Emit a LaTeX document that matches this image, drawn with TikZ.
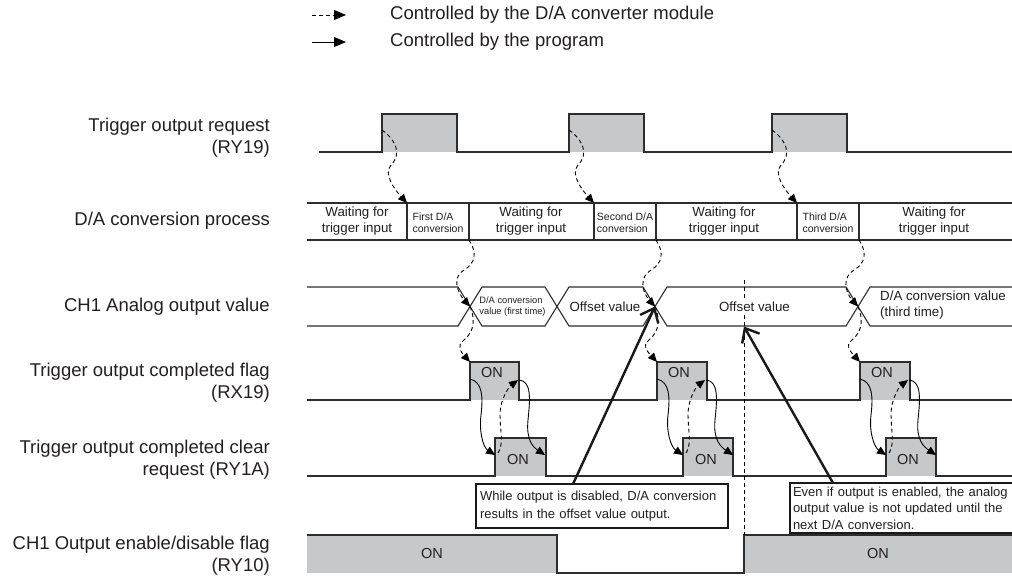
\documentclass[tikz,border=0pt]{standalone}
\usepackage{fontspec}
\setmainfont{Liberation Sans}
\usetikzlibrary{arrows.meta}
\definecolor{linec}{RGB}{45,45,45}
\definecolor{pgray}{RGB}{199,200,202}
\definecolor{txtc}{RGB}{35,31,32}
\begin{document}
\begin{tikzpicture}[x=1pt,y=-1pt,
  sig/.style={draw=linec,line width=1.1pt,line join=miter},
  dsh/.style={draw=black,line width=0.9pt,dash pattern=on 4pt off 3pt,-{Triangle[length=9pt,width=8pt]}},
  sol/.style={draw=black,line width=0.9pt,-{Triangle[length=9pt,width=8pt]}},
  big/.style={draw=black!90,line width=2.4pt,-{Straight Barb[length=12pt,width=20pt]}},
  vdash/.style={draw=black,line width=0.9pt,dash pattern=on 4pt off 3pt},
  lbl/.style={font=\fontsize{18.5}{21.7}\selectfont,align=right,anchor=east,inner sep=0pt,text=txtc},
  lgd/.style={font=\fontsize{18.5}{21.7}\selectfont,anchor=west,inner sep=0pt,text=txtc},
  wt/.style={font=\fontsize{13.3}{16}\selectfont,align=center,inner sep=0pt,text=txtc},
  cv/.style={font=\fontsize{10.5}{11.6}\selectfont,align=left,inner sep=0pt,text=txtc},
  sm/.style={font=\fontsize{9.3}{10.7}\selectfont,align=left,inner sep=0pt,text=txtc},
  ontxt/.style={font=\fontsize{14.5}{16}\selectfont,inner sep=0pt,text=txtc},
  callout/.style={draw=black!90,line width=2pt,fill=white,align=left,anchor=north west,text=txtc,inner ysep=0pt},
]
\useasboundingbox (0,0) rectangle (1012,576);
\fill[white] (0,0) rectangle (1012,576);

% ---------- legend ----------
\coordinate (lg1a) at (312,15);
\coordinate (lg1b) at (346,15);
\coordinate (lg2a) at (312,42);
\coordinate (lg2b) at (346,42);
\draw[draw=black,line width=0.9pt,dash pattern=on 4pt off 3pt,-{Triangle[length=12pt,width=10pt]}] (lg1a) -- (lg1b);
\draw[draw=black,line width=0.9pt,-{Triangle[length=12pt,width=10pt]}] (lg2a) -- (lg2b);
\node[lgd] (lgt1) at (390,15) {Controlled by the D/A converter module};
\node[lgd] (lgt2) at (390,42) {Controlled by the program};

% ---------- left labels ----------
\node[lbl] (l1) at (270,137.5) {Trigger output request\\(RY19)};
\node[lbl] (l2) at (270,221) {D/A conversion process};
\node[lbl] (l3) at (270,306.5) {CH1 Analog output value};
\node[lbl] (l4) at (270,382.5) {Trigger output completed flag\\(RX19)};
\node[lbl] (l5) at (270,459.5) {Trigger output completed clear\\request (RY1A)};
\node[lbl] (l6) at (270,556) {CH1 Output enable/disable flag\\(RY10)};

% ---------- fills ----------
\fill[pgray] (382,114) rectangle (457,152);
\fill[pgray] (569,114) rectangle (644,152);
\fill[pgray] (772,114) rectangle (847,152);
\fill[pgray] (470,362) rectangle (519,400);
\fill[pgray] (657,362) rectangle (707,400);
\fill[pgray] (860,362) rectangle (910,400);
\fill[pgray] (495,438) rectangle (546,476);
\fill[pgray] (683,438) rectangle (733,476);
\fill[pgray] (886,438) rectangle (936,476);
\fill[pgray] (307,535) rectangle (557,573);
\fill[pgray] (744,535) rectangle (1012,573);

% ---------- row 1 ----------
\draw[sig] (319,152) -- (382,152) -- (382,114) -- (457,114) -- (457,152) -- (569,152) -- (569,114) -- (644,114) -- (644,152)
  -- (772,152) -- (772,114) -- (847,114) -- (847,152) -- (1012,152);

% ---------- row 2 ----------
\draw[sig] (307,203) -- (1012,203);
\draw[sig] (307,240) -- (1012,240);
\foreach \x in {407,469,594,656,797,859}{\draw[sig] (\x,203) -- (\x,240);}
\node[wt] (w1) at (357,221.5) {Waiting for\\trigger input};
\node[cv] (f1) at (438,222.5) {First D/A\\conversion};
\node[wt] (w2) at (531,221.5) {Waiting for\\trigger input};
\node[cv] (f2) at (625,222.5) {Second D/A\\conversion};
\node[wt] (w3) at (724,221.5) {Waiting for\\trigger input};
\node[cv] (f3) at (828,222.5) {Third D/A\\conversion};
\node[wt] (w4) at (934,221.5) {Waiting for\\trigger input};

% ---------- row 3 ----------
\draw[sig] (307,287) -- (458,287) -- (470,306.5) -- (482,326) -- (545,326) -- (557,306.5) -- (569,287) -- (643,287) -- (655,306.5)
  -- (667,326) -- (846,326) -- (858,306.5) -- (870,287) -- (1012,287);
\draw[sig] (307,326) -- (458,326) -- (470,306.5) -- (482,287) -- (545,287) -- (557,306.5) -- (569,326) -- (643,326) -- (655,306.5)
  -- (667,287) -- (846,287) -- (858,306.5) -- (870,326) -- (1012,326);

% ---------- rows 4, 5, 6 ----------
\draw[sig] (307,400) -- (470,400) -- (470,362) -- (519,362) -- (519,400) -- (657,400) -- (657,362) -- (707,362) -- (707,400)
  -- (860,400) -- (860,362) -- (910,362) -- (910,400) -- (1012,400);
\draw[sig] (307,476) -- (495,476) -- (495,438) -- (546,438) -- (546,476) -- (683,476) -- (683,438) -- (733,438) -- (733,476)
  -- (886,476) -- (886,438) -- (936,438) -- (936,476) -- (1012,476);
\draw[sig] (307,535) -- (557,535) -- (557,573) -- (744,573) -- (744,535) -- (1012,535);

% dashed vertical marker
\draw[vdash] (744,280) -- (744,535);

% row 3 texts
\node[sm] (dv1) at (512.5,306.5) {D/A conversion\\value (first time)};
\node[wt] (ov1) at (605,306.5) {Offset value};
\node[wt,fill=white,inner sep=1pt] (ov2) at (754.5,306.5) {Offset value};
\node[wt,align=left,anchor=west] (dv3) at (880,305) {D/A conversion value\\(third time)};

% ON texts
\node[ontxt] (on4a) at (492,373) {ON};
\node[ontxt] (on4b) at (679,373) {ON};
\node[ontxt] (on4c) at (882,373) {ON};
\node[ontxt] (on5a) at (518,460) {ON};
\node[ontxt] (on5b) at (706,460) {ON};
\node[ontxt] (on5c) at (908,460) {ON};
\node[ontxt] (on6a) at (432,554) {ON};
\node[ontxt] (on6b) at (878,554) {ON};

% ---------- dashed arrows row1 -> row2 ----------
\foreach \i/\s/\d in {1/382/407,2/569/594,3/772/797}{
  \coordinate (trig\i) at (\s,130);
  \coordinate (proc\i) at (\d,203);
  \draw[dsh] (trig\i) .. controls ({\s+14},140) and ({\s+20},154) .. ({\s+9},165)
     .. controls ({\s+1},174) and ({\d-12},190) .. (proc\i);
}
% ---------- dashed arrows row2 -> row3 ----------
\foreach \i/\d/\c in {1/469/470,2/656/655,3/859/858}{
  \coordinate (pend\i) at (\d,240);
  \coordinate (cx\i) at (\c,306.5);
  \draw[dsh] (pend\i) .. controls ({\d+8},252) and ({\d+7},263) .. ({\d-5},270)
     .. controls ({\d-17},277) and ({\c-13},292) .. (cx\i);
}
% ---------- dashed arrows row3 -> row4 ----------
\foreach \i/\c/\a in {1/470/470,2/655/657,3/858/860}{
  \coordinate (cy\i) at (\c,306.5);
  \coordinate (flag\i) at (\a,362);
  \draw[dsh] (cy\i) .. controls ({\c+5},318) and ({\c+5},331) .. ({\c-6},340)
     .. controls ({\c-14},346) and ({\a-9},352) .. (flag\i);
}
% ---------- arrows between row 4 and row 5 ----------
\foreach \i/\a/\b in {1/470/495,2/657/683,3/860/886}{
  \coordinate (fs\i) at (\a,379);
  \coordinate (cs\i) at (\b,455);
  \coordinate (cd\i) at ({\b+3},453);
  \coordinate (fe\i) at ({\a+48},380);
  \coordinate (fr\i) at ({\a+49},380);
  \coordinate (ce\i) at ({\b+50},455);
  \draw[sol] (fs\i) .. controls ({\a+13},382) and ({\a+13},398) .. ({\a+11},415)
     .. controls ({\a+9},432) and ({\b-12},447) .. (cs\i);
  \draw[dsh] (cd\i) .. controls ({\b+9},444) and ({\b+5},430) .. ({\b+5},415)
     .. controls ({\b+5},398) and ({\a+40},386) .. (fe\i);
  \draw[sol] (fr\i) .. controls ({\a+62},381) and ({\a+60},400) .. ({\a+58},420)
     .. controls ({\a+56},440) and ({\b+38},447) .. (ce\i);
}

% ---------- callouts ----------
\coordinate (p1) at (573,484);
\coordinate (p2) at (833,483);
\coordinate (tip2) at (744,326.5);
\draw[big] (p1) -- (cx2);
\draw[big] (p2) -- (tip2);
\node[callout,font=\fontsize{13}{18}\selectfont,text width=244pt,inner xsep=4pt,minimum height=44pt] (co1) at (475,483)
  {While output is disabled, D/A conversion\\results in the offset value output.};
\node[callout,font=\fontsize{13}{16.5}\selectfont,text width=224pt,inner xsep=3pt,minimum height=50pt] (co2) at (789,482)
  {Even if output is enabled, the analog\\output value is not updated until the\\next D/A conversion.};
\end{tikzpicture}
\end{document}
